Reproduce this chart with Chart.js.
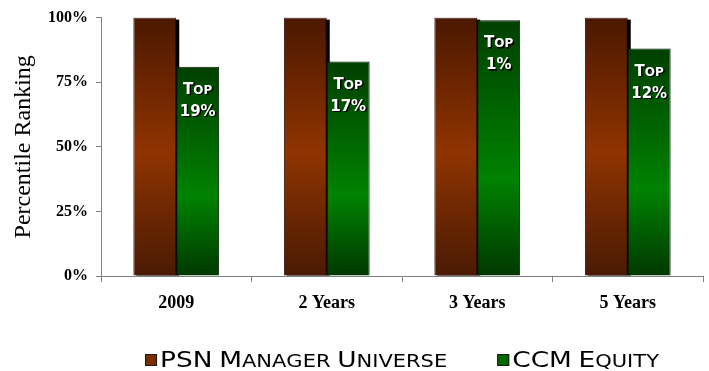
<!DOCTYPE html>
<html><head><meta charset="utf-8">
<script src="https://cdn.jsdelivr.net/npm/chart.js@4/dist/chart.umd.min.js"></script>
<style>html,body{margin:0;padding:0;background:#fff}#w{width:709px;height:371px}</style>
</head><body><div id="w"><canvas id="c"></canvas></div>
<script>
const categories = ["2009", "2 Years", "3 Years", "5 Years"];
const psnUniverse = [100, 100, 100, 100];
const ccmEquity = [81, 83, 99, 88];
const topLabels = ["19%", "17%", "1%", "12%"];
const yTicks = [0, 25, 50, 75, 100];
const legendSwatches = ["#7c2c00", "#006a00"];

function grad(stops, solid) {
  return function (ctx) {
    if (ctx.type !== 'data') return solid;
    const chart = ctx.chart;
    if (!chart.chartArea || !chart.scales.y) return solid;
    const ys = chart.scales.y;
    const top = ys.getPixelForValue(ctx.raw), bot = ys.getPixelForValue(0);
    const g = chart.ctx.createLinearGradient(0, top, 0, bot);
    stops.forEach(s => g.addColorStop(s[0], s[1]));
    return g;
  };
}

// small-caps text drawn with two font sizes
function smallCaps(c, text, x, y, big, small, family, weight, draw) {
  let w = 0;
  for (const ch of text) {
    const up = ch.toUpperCase();
    const isBig = ch !== ch.toLowerCase() || /[0-9%]/.test(ch);
    c.font = (weight ? weight + ' ' : '') + (isBig ? big : small) + 'px ' + family;
    if (draw) c.fillText(up, x + w, y);
    w += c.measureText(up).width;
  }
  return w;
}

const shadowPlugin = {
  id: 'shadow',
  beforeDatasetsDraw(chart) {
    const c = chart.ctx, meta = chart.getDatasetMeta(0);
    c.save();
    c.fillStyle = '#000';
    meta.data.forEach(el => {
      const p = el.getProps(['x', 'y', 'base', 'width'], true);
      c.fillRect(p.x - p.width / 2 + 3, p.y + 2, p.width, p.base - p.y - 2);
    });
    c.restore();
  }
};

const labelPlugin = {
  id: 'toplabels',
  afterDatasetsDraw(chart) {
    const c = chart.ctx, meta = chart.getDatasetMeta(1);
    c.save();
    c.textAlign = 'left';
    c.textBaseline = 'alphabetic';
    c.shadowColor = 'rgba(0,0,0,0.95)';
    c.shadowOffsetX = 1.5; c.shadowOffsetY = 1.5; c.shadowBlur = 0.5;
    c.fillStyle = '#ffffff';
    const fam = '"DejaVu Sans"';
    meta.data.forEach((el, i) => {
      const p = el.getProps(['x', 'y'], true);
      const w1 = smallCaps(c, 'Top', 0, 0, 15, 12, fam, 'bold', false);
      smallCaps(c, 'Top', p.x - w1 / 2, p.y + 27, 15, 12, fam, 'bold', true);
      const w2 = smallCaps(c, topLabels[i], 0, 0, 15, 12, fam, 'bold', false);
      smallCaps(c, topLabels[i], p.x - w2 / 2, p.y + 49, 15, 12, fam, 'bold', true);
    });
    c.restore();
  }
};

const legendPlugin = {
  id: 'customLegend',
  afterDraw(chart) {
    const c = chart.ctx;
    const fam = '"DejaVu Sans"', big = 22, small = 17.5, sx = 1.2;
    c.save();
    c.textBaseline = 'alphabetic';
    c.textAlign = 'left';
    const items = chart.data.datasets.map((d, i) => ({ text: d.label, color: legendSwatches[i], w: smallCaps(c, d.label, 0, 0, big, small, fam, '', false) * sx }));
    const box = 12, gapBox = 3, gapItem = 50;
    let total = 0;
    items.forEach((it, i) => { total += box + gapBox + it.w + (i ? gapItem : 0); });
    const ca = chart.chartArea;
    let x = (ca.left + ca.right - total) / 2;
    const yb = 367;
    items.forEach(it => {
      c.fillStyle = it.color;
      c.fillRect(x, yb - 13, box, box);
      c.strokeStyle = '#1a1a1a';
      c.lineWidth = 1;
      c.strokeRect(x + 0.5, yb - 12.5, box - 1, box - 1);
      c.fillStyle = '#000';
      c.save();
      c.translate(x + box + gapBox, yb);
      c.scale(sx, 1);
      smallCaps(c, it.text, 0, 0, big, small, fam, '', true);
      c.restore();
      x += box + gapBox + it.w + gapItem;
    });
    c.restore();
  }
};

new Chart(document.getElementById('c'), {
  type: 'bar',
  data: {
    labels: categories,
    datasets: [
      {
        label: 'PSN Manager Universe',
        data: psnUniverse,
        backgroundColor: grad([[0, '#4b1800'], [0.52, '#8f3400'], [1, '#4a1a04']], legendSwatches[0]),
        borderColor: '#2a0c00',
        borderWidth: 1,
        barPercentage: 1,
        categoryPercentage: 0.57
      },
      {
        label: 'CCM Equity',
        data: ccmEquity,
        backgroundColor: grad([[0, '#003f00'], [0.62, '#008200'], [1, '#003800']], legendSwatches[1]),
        borderColor: '#001c00',
        borderWidth: 1,
        barPercentage: 1,
        categoryPercentage: 0.57
      }
    ]
  },
  options: {
    responsive: true,
    maintainAspectRatio: false,
    animation: false,
    layout: { padding: { top: 16, right: 6, left: 0, bottom: 45 } },
    plugins: {
      tooltip: { enabled: false },
      legend: { display: false }
    },
    scales: {
      x: {
        grid: { drawOnChartArea: false, tickLength: 6, color: '#808080', offset: true },
        border: { color: '#808080' },
        ticks: { color: '#000', padding: 11, font: { family: '"Liberation Serif"', size: 18, weight: 'bold' } },
        afterFit(s) { s.height = 50; }
      },
      y: {
        min: 0, max: 100,
        afterBuildTicks(s) { s.ticks = yTicks.map(v => ({ value: v })); },
        grid: { drawOnChartArea: false, tickLength: 5, color: '#808080' },
        border: { color: '#808080' },
        ticks: { color: '#000', padding: 8, font: { family: '"Liberation Serif"', size: 16, weight: 'bold' }, callback: v => v + '%' },
        title: { display: true, text: 'Percentile Ranking', color: '#000', padding: { top: 9, bottom: 0 }, font: { family: '"Liberation Serif"', size: 24, weight: 'normal' } },
        afterFit(s) { s.width = 101; }
      }
    }
  },
  plugins: [shadowPlugin, labelPlugin, legendPlugin]
});
</script></body></html>
